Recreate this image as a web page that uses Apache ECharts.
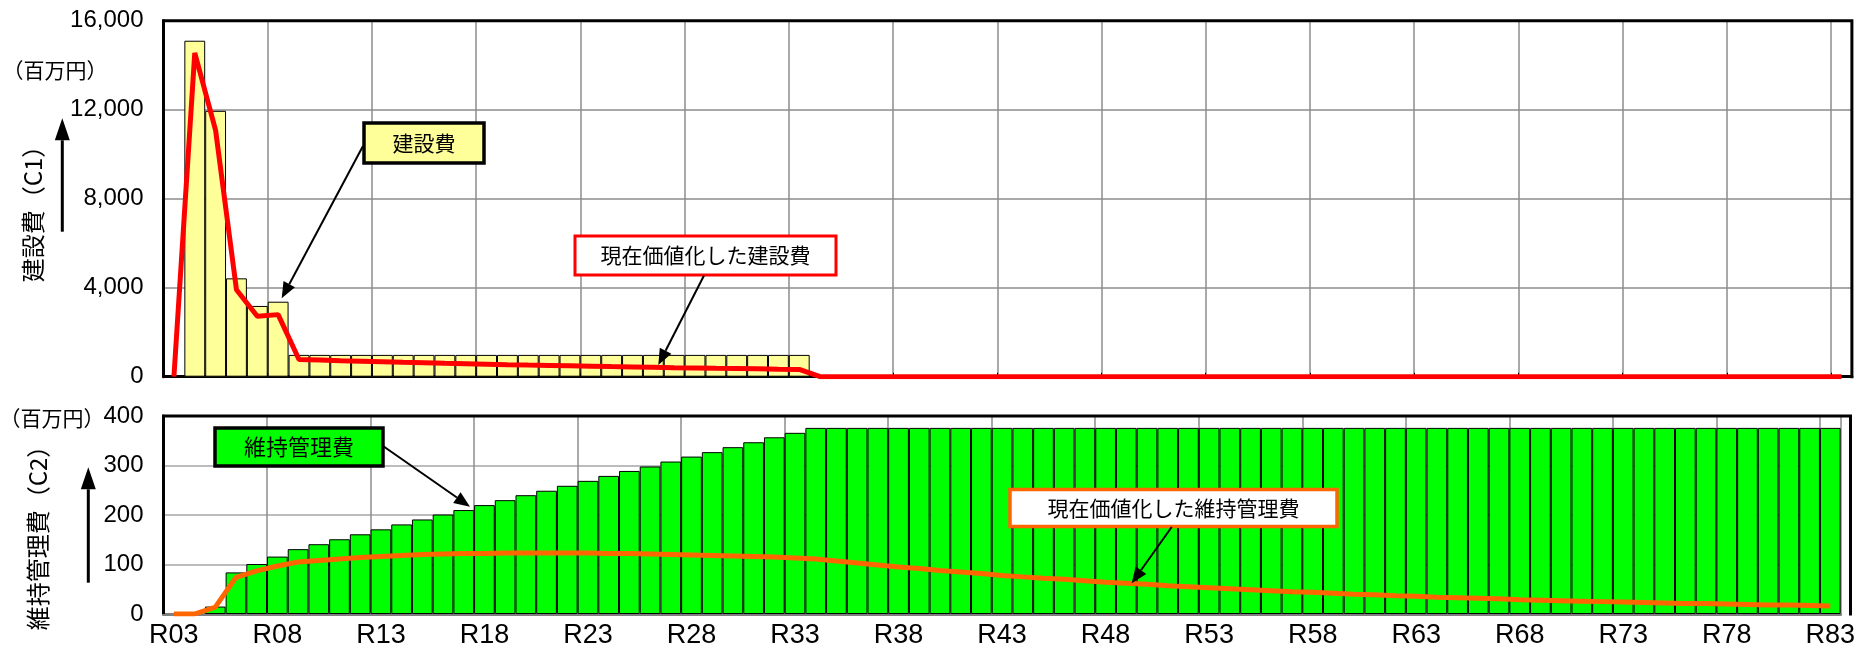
<!DOCTYPE html>
<html>
<head>
<meta charset="utf-8">
<script src="https://cdn.jsdelivr.net/npm/echarts@6/dist/echarts.min.js"></script>
<style>
  html, body { margin: 0; padding: 0; background: #fff; }
  #main { width: 1858px; height: 652px; }
</style>
</head>
<body>
<div id="main"></div>
<script>
// years R03 .. R83
var years = [];
for (var i = 3; i <= 83; i++) years.push('R' + (i < 10 ? '0' + i : i));

// 建設費 (C1) bars, 百万円
var constCost = [
  '-', 15100, 11950, 4420, 3180, 3370, 980, 980, 980, 980,
  980, 980, 980, 980, 980, 980, 980, 980, 980, 980,
  980, 980, 980, 980, 980, 980, 980, 980, 980, 980,
  980, '-', '-', '-', '-', '-', '-', '-', '-', '-',
  '-', '-', '-', '-', '-', '-', '-', '-', '-', '-',
  '-', '-', '-', '-', '-', '-', '-', '-', '-', '-',
  '-', '-', '-', '-', '-', '-', '-', '-', '-', '-',
  '-', '-', '-', '-', '-', '-', '-', '-', '-', '-',
  '-'
];
// 現在価値化した建設費
var constPV = [
  0, 14550, 11070, 3910, 2720, 2790, 775, 748, 722, 697,
  672, 648, 625, 603, 582, 562, 542, 523, 505, 487,
  470, 453, 437, 422, 407, 393, 379, 366, 353, 340,
  328, 0, 0, 0, 0, 0, 0, 0, 0, 0,
  0, 0, 0, 0, 0, 0, 0, 0, 0, 0,
  0, 0, 0, 0, 0, 0, 0, 0, 0, 0,
  0, 0, 0, 0, 0, 0, 0, 0, 0, 0,
  0, 0, 0, 0, 0, 0, 0, 0, 0, 0,
  0
];
// 維持管理費 (C2) bars
var mainCost = [
  '-', '-', 15, 84, 101, 116, 131, 141, 151, 161,
  171, 181, 191, 201, 210, 220, 230, 240, 249, 259,
  269, 279, 289, 298, 308, 318, 327, 337, 347, 357,
  366, 376, 376, 376, 376, 376, 376, 376, 376, 376,
  376, 376, 376, 376, 376, 376, 376, 376, 376, 376,
  376, 376, 376, 376, 376, 376, 376, 376, 376, 376,
  376, 376, 376, 376, 376, 376, 376, 376, 376, 376,
  376, 376, 376, 376, 376, 376, 376, 376, 376, 376,
  376
];
// 現在価値化した維持管理費
var mainPV = [
  0, 0, 14, 74, 87, 97, 105, 108, 111, 114,
  116, 118, 120, 121, 122, 122, 123, 123, 123, 123,
  123, 122, 122, 121, 120, 119, 118, 117, 116, 115,
  113, 111, 107, 103, 99, 95, 92, 88, 85, 82,
  78, 75, 72, 70, 67, 64, 62, 60, 57, 55,
  53, 51, 49, 47, 45, 44, 42, 40, 39, 37,
  36, 34, 33, 32, 31, 29, 28, 27, 26, 25,
  24, 23, 22, 21, 21, 20, 19, 18, 18, 17,
  16
];

var numFont = '"Liberation Sans Narrow", "Liberation Sans", sans-serif';
var jpFont = '"Noto Sans CJK JP", sans-serif';
var gridColor = '#8c8c8c';

// plot areas
var g1 = { left: 163.5, top: 20.7, width: 1688.4, height: 356 };
var g2 = { left: 163.5, top: 416, width: 1687, height: 198 };

function arrow(x1, y1, x2, y2, hl, hw, lw) {
  var a = Math.atan2(y2 - y1, x2 - x1);
  var bx = x2 - hl * Math.cos(a), by = y2 - hl * Math.sin(a);
  var px = -Math.sin(a) * hw / 2, py = Math.cos(a) * hw / 2;
  return [
    { type: 'line', z: 100, shape: { x1: x1, y1: y1, x2: bx, y2: by }, style: { stroke: '#000', lineWidth: lw } },
    { type: 'polygon', z: 100, shape: { points: [[x2, y2], [bx + px, by + py], [bx - px, by - py]] }, style: { fill: '#000' } }
  ];
}

function box(x, y, w, h, fill, stroke, lw, text, fs) {
  return [
    { type: 'rect', z: 100, shape: { x: x, y: y, width: w, height: h }, style: { fill: fill, stroke: stroke, lineWidth: lw } },
    { type: 'text', z: 101, x: x + w / 2, y: y + h / 2,
      style: { text: text, font: fs + 'px ' + jpFont, fill: '#000', textAlign: 'center', textVerticalAlign: 'middle' } }
  ];
}

function label(x, y, text, fs, rot) {
  return { type: 'text', z: 101, x: x, y: y, rotation: rot || 0,
    style: { text: text, font: fs + 'px ' + jpFont, fill: '#000', textAlign: 'center', textVerticalAlign: 'middle' } };
}

// left / top / right edges of a plot area in black
function frame(g) {
  var l = g.left, t = g.top, r = g.left + g.width, b = g.top + g.height;
  return { type: 'polyline', z: 90, shape: { points: [[l, b], [l, t], [r, t], [r, b + 1.5]] },
    style: { stroke: '#000', lineWidth: 3, fill: null } };
}

var graphics = [].concat(
  [frame(g1), frame(g2)],
  box(364, 123, 120, 40, '#ffff99', '#000', 3.5, '建設費', 21),
  arrow(363, 146, 281.7, 298.3, 16, 13, 2),
  box(575, 236, 261, 39, '#fff', '#ff0000', 3, '現在価値化した建設費', 21),
  arrow(704, 275.5, 658.3, 365, 16, 13, 2),
  box(215, 428, 168, 38, '#00ff00', '#000', 3.5, '維持管理費', 22),
  arrow(383, 446, 470, 506.7, 16, 13, 2),
  box(1010, 489.5, 327, 37, '#fff', '#ff6600', 3.5, '現在価値化した維持管理費', 21),
  arrow(1171.7, 527, 1131.7, 583.3, 16, 13, 2),
  arrow(62.3, 231.7, 62.3, 118.3, 22, 15, 3),
  arrow(88.3, 582.7, 88.3, 467.3, 22, 15, 3),
  [
    label(55, 70, '（百万円）', 21),
    label(52, 418, '（百万円）', 21),
    label(32.5, 208, '建設費（C1）', 24, Math.PI / 2),
    label(37.5, 532, '維持管理費（C2）', 24, Math.PI / 2)
  ]
);

var myChart = echarts.init(document.getElementById('main'));

var option = {
  animation: false,
  backgroundColor: '#fff',
  grid: [g1, g2],
  xAxis: [
    {
      type: 'category', gridIndex: 0, data: years, boundaryGap: true,
      axisLine: { lineStyle: { color: '#000', width: 3 } },
      axisTick: { show: true, inside: true, interval: 4, length: 4, lineStyle: { color: '#000' } },
      axisLabel: { show: false },
      splitLine: { show: true, interval: 4, lineStyle: { color: gridColor, width: 1.5 } }
    },
    {
      type: 'category', gridIndex: 1, data: years, boundaryGap: true,
      axisLine: { lineStyle: { color: '#808080', width: 3 } },
      axisTick: { show: true, inside: true, interval: 4, length: 4, lineStyle: { color: '#999' } },
      axisLabel: { interval: 4, fontSize: 27, fontFamily: numFont, color: '#000', margin: 8, hideOverlap: false },
      splitLine: { show: true, interval: 4, lineStyle: { color: gridColor, width: 1.5 } }
    }
  ],
  yAxis: [
    {
      type: 'value', gridIndex: 0, min: 0, max: 16000, interval: 4000,
      axisLine: { show: true, lineStyle: { color: '#000', width: 3 } },
      axisTick: { show: false },
      axisLabel: {
        fontSize: 24, fontFamily: numFont, color: '#000', margin: 20,
        formatter: function (v) { return v.toLocaleString('en-US'); }
      },
      splitLine: { lineStyle: { color: gridColor, width: 1.5 } }
    },
    {
      type: 'value', gridIndex: 1, min: 0, max: 400, interval: 100,
      axisLine: { show: true, lineStyle: { color: '#000', width: 3 } },
      axisTick: { show: false },
      axisLabel: { fontSize: 24, fontFamily: numFont, color: '#000', margin: 20 },
      splitLine: { lineStyle: { color: '#a6a6a6', width: 1.5 } }
    }
  ],
  series: [
    {
      name: '建設費', type: 'bar', xAxisIndex: 0, yAxisIndex: 0, data: constCost,
      barWidth: '100%', itemStyle: { color: '#ffff99', borderColor: '#000', borderWidth: 1 }
    },
    {
      name: '現在価値化した建設費', type: 'line', xAxisIndex: 0, yAxisIndex: 0, data: constPV,
      symbol: 'none', lineStyle: { color: '#ff0000', width: 5 }, z: 5
    },
    {
      name: '維持管理費', type: 'bar', xAxisIndex: 1, yAxisIndex: 1, data: mainCost,
      barWidth: '100%', itemStyle: { color: '#00ff00', borderColor: '#000', borderWidth: 1 }
    },
    {
      name: '現在価値化した維持管理費', type: 'line', xAxisIndex: 1, yAxisIndex: 1, data: mainPV,
      symbol: 'none', lineStyle: { color: '#ff6600', width: 5 }, z: 5
    }
  ],
  graphic: graphics
};

myChart.setOption(option);
</script>
</body>
</html>
